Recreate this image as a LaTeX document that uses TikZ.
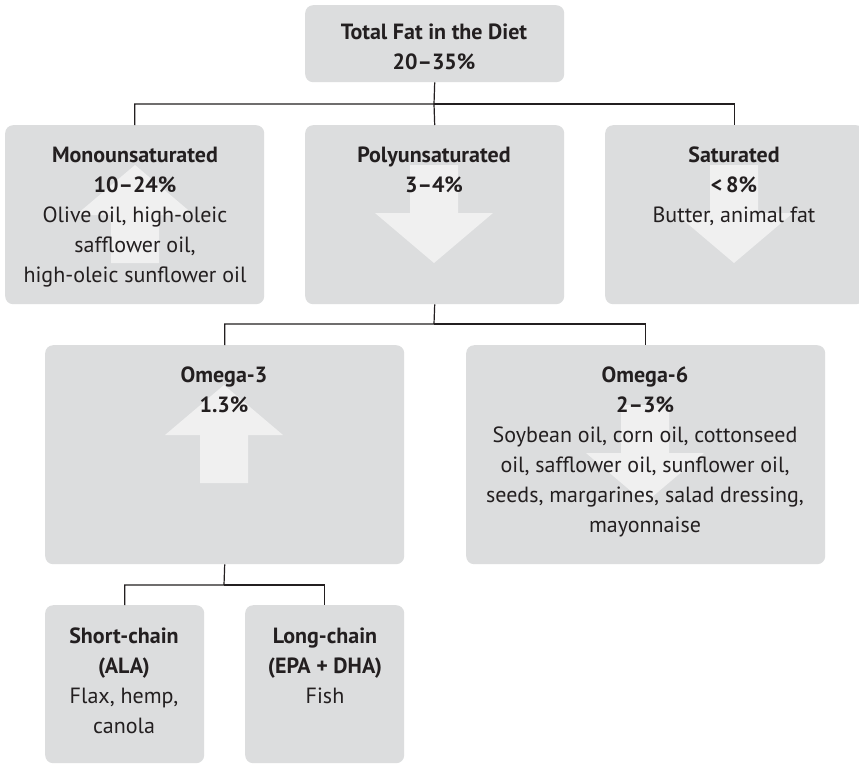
\documentclass[tikz,border=0pt]{standalone}
\usepackage{fontspec}
\setmainfont{PT Sans}
\definecolor{boxgray}{HTML}{DCDDDE}
\definecolor{arrowgray}{HTML}{F0F0F0}
\definecolor{ink}{HTML}{231F20}
\newcommand{\fatup}[2]{\fill [arrowgray] (#1,#2) -- ++(59,50) -- ++(-35,0) -- ++(0,48) -- ++(-48,0) -- ++(0,-48) -- ++(-35,0) -- cycle;}
\newcommand{\fatdown}[2]{\fill [arrowgray] (#1,#2) -- ++(59,-50) -- ++(-35,0) -- ++(0,-48) -- ++(-48,0) -- ++(0,48) -- ++(-35,0) -- cycle;}

\begin{document}
\begin{tikzpicture}[x=1pt,y=-1pt]
\tikzstyle{every node}+=[inner sep=0pt]
\tikzstyle{fatbox}=[fill=boxgray, rounded corners=8pt, anchor=north west]
\tikzstyle{fattext}=[font=\fontsize{22}{30}\selectfont, text=ink, align=center, anchor=north]
\tikzstyle{link}=[ink, line width=1.2pt]
\useasboundingbox [fill=white] (0,0) rectangle (859,764);
\node [fatbox, minimum width=259pt, minimum height=77pt] (total) at (305,5) {};
\node [fatbox, minimum width=259pt, minimum height=179pt] (mono) at (5,125) {};
\node [fatbox, minimum width=259pt, minimum height=179pt] (poly) at (305,125) {};
\node [fatbox, minimum width=259pt, minimum height=179pt] (sat) at (605,125) {};
\node [fatbox, minimum width=359pt, minimum height=219pt] (omega3) at (45,345) {};
\node [fatbox, minimum width=359pt, minimum height=219pt] (omega6) at (466,345) {};
\node [fatbox, minimum width=159pt, minimum height=158pt] (short) at (45,605) {};
\node [fatbox, minimum width=159pt, minimum height=158pt] (long) at (245,605) {};
\fatup{135}{165}
\fatdown{434}{263}
\fatdown{734}{263}
\fatup{224}{385}
\fatdown{645}{503}
\node [fattext] (totaltext) at (434,24) {\textbf{Total Fat in the Diet}\\\textbf{20–35\%}};
\node [fattext] (monotext) at (135,147) {\textbf{Monounsaturated}\\\textbf{10–24\%}\\Olive oil, high-oleic\\safflower oil,\\high-oleic sunflower oil};
\node [fattext] (polytext) at (434,147) {\textbf{Polyunsaturated}\\\textbf{3–4\%}};
\node [fattext] (sattext) at (734,147) {\textbf{Saturated}\\\textbf{<\,8\%}\\Butter, animal fat};
\node [fattext] (omega3text) at (224,367) {\textbf{Omega-3}\\\textbf{1.3\%}};
\node [fattext] (omega6text) at (645,367) {\textbf{Omega-6}\\\textbf{2–3\%}\\Soybean oil, corn oil, cottonseed\\oil, safflower oil, sunflower oil,\\seeds, margarines, salad dressing,\\mayonnaise};
\node [fattext] (shorttext) at (124,628) {\textbf{Short-chain}\\\textbf{(ALA)}\\Flax, hemp,\\canola};
\node [fattext] (longtext) at (325,628) {\textbf{Long-chain}\\\textbf{(EPA + DHA)}\\Fish};
\coordinate (split1) at (434,104);
\coordinate (split2) at (434,324);
\coordinate (split3) at (224,585);
\draw [link] (total.south) -- (split1) -| (mono.north);
\draw [link] (split1) -| (sat.north);
\draw [link] (split1) -- (poly.north);
\draw [link] (poly.south) -- (split2) -| (omega3.north);
\draw [link] (split2) -| (omega6.north);
\draw [link] (omega3.south) -- (split3) -| (short.north);
\draw [link] (split3) -| (long.north);
\end{tikzpicture}
\end{document}
